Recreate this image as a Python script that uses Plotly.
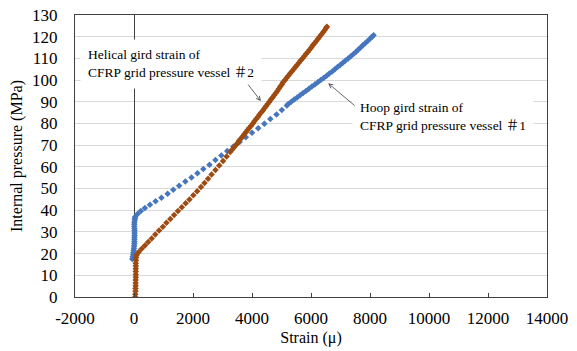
import plotly.graph_objects as go

# Hoop gird strain, vessel #1 (blue)
hoop_pressure = [17.5, 18.5, 19.5, 20.5, 21.5, 22.5, 23.5, 24.5, 25.5, 26.5, 27.5, 28.5, 29.5,
                 30.5, 31.5, 32.5, 33.5, 34.5, 35.5, 36.3, 37.0, 38.3, 39.6, 41.0, 42.5, 44.1,
                 45.8, 47.6, 49.4, 51.3, 53.2, 55.1, 57.0, 59.0, 61.0, 63.1, 65.2, 67.3, 69.4,
                 71.5, 73.6, 75.7, 77.8, 79.9, 82.0, 84.1, 86.2, 88.3,
                 89, 90, 91, 92, 93, 94, 95, 96, 97, 98, 99, 100, 101, 102, 103, 104, 105,
                 106, 107, 108, 109, 110, 111, 112, 113, 114, 115, 116, 117, 118, 119, 120, 120.7]
hoop_strain = [-60, -40, -30, -20, -10, 0, 5, 10, 10, 15, 15, 20, 20,
               20, 15, 10, 10, 15, 25, 30, 40, 120, 230, 370, 540, 730,
               930, 1140, 1330, 1530, 1740, 1950, 2150, 2350, 2560, 2760, 2960, 3160, 3370,
               3580, 3790, 4000, 4210, 4420, 4620, 4830, 5010, 5180,
               5230, 5330, 5430, 5530, 5630, 5730, 5830, 5930, 6030, 6130, 6230, 6330, 6430,
               6530, 6620, 6720, 6810, 6900, 6990, 7080, 7170, 7260, 7350, 7440, 7520, 7600,
               7680, 7760, 7840, 7920, 8000, 8070, 8120]

# Helical gird strain, vessel #2 (brown)
helical_pressure = [0, 1.3, 2.6, 3.9, 5.2, 6.5, 7.8, 9.1, 10.4, 11.7, 13.0, 14.3, 15.6, 16.9,
                    18.2, 19.4, 20.8, 22.2, 23.7, 25.3, 27.0, 28.8, 30.6, 32.4, 34.2, 36.0,
                    37.8, 39.6, 41.4, 43.2, 45.0, 46.9, 48.8, 50.7, 52.6, 54.5, 56.5, 58.5,
                    60.6, 62.7, 64.8, 66.9,
                    68, 69, 70, 71, 72, 73, 74, 75, 76, 77, 78, 79, 80, 81, 82, 83, 84, 85,
                    86, 87, 88, 89, 90, 91, 92, 93, 94, 95, 96, 97, 98, 99, 100, 101, 102,
                    103, 104, 105, 106, 107, 108, 109, 110, 111, 112, 113, 114, 115, 116,
                    117, 118, 119, 120, 121, 122, 123, 124, 124.6]
helical_strain = [40, 45, 50, 50, 55, 55, 55, 60, 60, 60, 60, 60, 60, 65,
                  70, 90, 160, 260, 370, 480, 600, 720, 850, 980, 1100, 1230,
                  1360, 1490, 1620, 1750, 1880, 2010, 2140, 2270, 2390, 2510, 2630, 2760,
                  2890, 3020, 3140, 3260,
                  3330, 3390, 3450, 3510, 3560, 3620, 3680, 3740, 3790, 3850, 3910, 3970,
                  4030, 4080, 4140, 4200, 4250, 4310, 4370, 4420, 4480, 4530, 4590, 4640,
                  4700, 4750, 4810, 4860, 4910, 4960, 5010, 5050, 5120, 5170, 5230, 5290,
                  5350, 5410, 5470, 5530, 5590, 5650, 5710, 5770, 5830, 5890, 5950, 6010,
                  6060, 6120, 6180, 6240, 6290, 6350, 6410, 6460, 6510, 6540]

x_ticks = [-2000, 0, 2000, 4000, 6000, 8000, 10000, 12000, 14000]
y_ticks = list(range(0, 131, 10))

FONT = "Liberation Serif, Times New Roman, serif"
BLUE = "#4676BE"
BROWN = "#9E4A10"
AXIS = "#404040"
SHARP = "<span style='font-family:Noto Sans CJK JP'>＃</span>"

fig = go.Figure()
fig.add_trace(go.Scatter(x=hoop_strain, y=hoop_pressure, mode="markers",
                         marker=dict(symbol="diamond", size=5, color=BLUE),
                         name="Hoop", showlegend=False))
fig.add_trace(go.Scatter(x=helical_strain, y=helical_pressure, mode="markers",
                         marker=dict(symbol="diamond", size=5, color=BROWN),
                         name="Helical", showlegend=False))

fig.update_layout(
    width=577, height=351,
    margin=dict(l=75, r=30, t=15, b=54),
    paper_bgcolor="white", plot_bgcolor="white",
    font=dict(family=FONT, size=15, color="black"),
    xaxis=dict(range=[-2000, 14000], tickvals=x_ticks, ticktext=[str(v) for v in x_ticks],
               automargin=False, ticklabeloverflow="allow",
               showgrid=False, zeroline=True, zerolinecolor=AXIS, zerolinewidth=1,
               showline=True, linecolor=AXIS, linewidth=1, mirror=True,
               ticks="inside", ticklen=4, tickcolor=AXIS, ticklabelstandoff=6,
               title=dict(text="Strain (μ)", standoff=4, font=dict(size=16)),
               tickfont=dict(size=17)),
    yaxis=dict(range=[0, 130], tickvals=y_ticks, ticktext=[str(v) for v in y_ticks],
               automargin=False, ticklabeloverflow="allow",
               showgrid=True, gridcolor="#D9D9D9", gridwidth=1, zeroline=False,
               showline=True, linecolor=AXIS, linewidth=1, mirror=True,
               ticks="", ticklabelstandoff=13,
               title=dict(text="Internal pressure (MPa)", standoff=5, font=dict(size=16)),
               tickfont=dict(size=17)),
    annotations=[
        dict(x=-1831, y=119, xref="x", yref="y", xanchor="left", yanchor="top",
             text="Helical gird strain of<br>CFRP grid pressure vessel " + SHARP + "2",
             showarrow=False, align="left", bgcolor="white", borderpad=7,
             font=dict(family=FONT, size=13.5, color="black")),
        dict(x=7390, y=94.5, xref="x", yref="y", xanchor="left", yanchor="top",
             text="Hoop gird strain of<br>CFRP grid pressure vessel " + SHARP + "1",
             showarrow=False, align="left", bgcolor="white", borderpad=7,
             font=dict(family=FONT, size=13.5, color="black")),
        dict(x=4300, y=90.3, ax=3830, ay=98.6, xref="x", yref="y", axref="x", ayref="y",
             text="", showarrow=True, arrowhead=5, arrowsize=1, arrowwidth=0.8,
             arrowcolor=AXIS, standoff=0),
        dict(x=6585, y=98.5, ax=7525, ay=87.7, xref="x", yref="y", axref="x", ayref="y",
             text="", showarrow=True, arrowhead=5, arrowsize=1, arrowwidth=0.8,
             arrowcolor=AXIS, standoff=0),
    ],
)

fig.write_html("out.html", config={"displayModeBar": False},
               post_script="document.body.style.margin='0';")
